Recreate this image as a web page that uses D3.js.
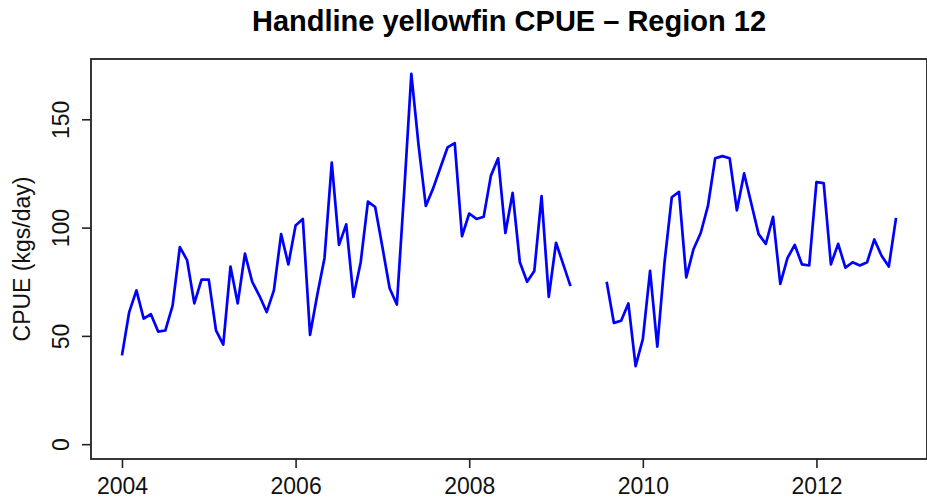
<!DOCTYPE html>
<html>
<head>
<meta charset="utf-8">
<script src="https://cdn.jsdelivr.net/npm/d3@7"></script>
<style>
    body { margin: 0; background: #fff; }
    svg { display: block; font-family: "Liberation Sans", Arial, sans-serif; }
</style>
</head>
<body>
<div id="chart"></div>
<script>
const years = [2004, 2005, 2006, 2007, 2008, 2009, 2010, 2011, 2012];

// monthly CPUE, Jan..Dec, null = no data
const cpue2004 = [41, 61, 71, 58, 60, 52, 52.5, 64, 91, 85, 65, 76];
const cpue2005 = [76, 52.5, 46, 82, 65, 88, 75, 68.5, 61, 71, 97, 83];
const cpue2006 = [101, 104, 50.5, 69, 86, 130, 92, 101.5, 68, 84, 112, 109.5];
const cpue2007 = [91, 72, 64.5, 116, 171, 138, 110, 118, 127.5, 137, 139, 96];
const cpue2008 = [106.5, 104, 105, 124, 132, 97.5, 116, 84, 75, 80, 114.5, 68];
const cpue2009 = [93, 83, 73, null, null, null, null, 75, 56, 57, 65, 36];
const cpue2010 = [48.5, 80, 45, 84, 114, 116.5, 77, 90, 97.5, 110, 132, 133];
const cpue2011 = [132, 108, 125, 111, 97, 92.5, 105, 74, 86, 92, 83, 82.5];
const cpue2012 = [121, 120.5, 83, 92.5, 81.5, 84, 82.5, 84, 94.5, 87, 82, 104.5];

const xTicks = [2004, 2006, 2008, 2010, 2012];
const yTicks = [0, 50, 100, 150];

const byYear = [cpue2004, cpue2005, cpue2006, cpue2007, cpue2008,
    cpue2009, cpue2010, cpue2011, cpue2012];

const data = [];
byYear.forEach((vals, i) => {
    vals.forEach((v, m) => {
        data.push({t: years[i] + m / 12, value: v});
    });
});

const width = 927;
const height = 501;
const plotLeft = 91, plotRight = 927, plotTop = 59, plotBottom = 459;

// R style 4% padding on both axes
const tMin = d3.min(data, d => d.t), tMax = d3.max(data, d => d.t);
const tPad = (tMax - tMin) * 0.04;
const vMax = d3.max(data, d => d.value);
const vPad = vMax * 0.04;

const x = d3.scaleLinear().domain([tMin - tPad, tMax + tPad]).range([plotLeft, plotRight]);
const y = d3.scaleLinear().domain([-vPad, vMax + vPad]).range([plotBottom, plotTop]);

const svg = d3.select('#chart')
    .append('svg')
    .attr('width', width)
    .attr('height', height);

svg.append('text')
    .attr('x', (plotLeft + plotRight) / 2)
    .attr('y', 31)
    .attr('text-anchor', 'middle')
    .style('font-size', '29px')
    .style('font-weight', 'bold')
    .text('Handline yellowfin CPUE \u2013 Region 12');

const xAxis = svg.append('g')
    .attr('transform', `translate(0,${plotBottom})`)
    .call(d3.axisBottom(x).tickValues(xTicks).tickFormat(d3.format('d')).tickSize(9).tickPadding(10));

const yAxis = svg.append('g')
    .attr('transform', `translate(${plotLeft},0)`)
    .call(d3.axisLeft(y).tickValues(yTicks).tickSize(9).tickPadding(6));

[xAxis, yAxis].forEach(g => {
    g.select('.domain').remove();
    g.selectAll('line').attr('stroke', '#222').attr('stroke-width', 1.6);
    g.selectAll('text').attr('fill', '#111').style('font-size', '23px');
});

// R draws y tick labels parallel to the axis
yAxis.selectAll('text')
    .attr('text-anchor', 'middle')
    .attr('x', -30)
    .attr('y', 0)
    .attr('dy', '0.35em')
    .attr('transform', 'rotate(-90, -30, 0)');

svg.append('text')
    .attr('transform', `translate(30,${(plotTop + plotBottom) / 2}) rotate(-90)`)
    .attr('text-anchor', 'middle')
    .style('font-size', '23px')
    .attr('fill', '#111')
    .text('CPUE (kgs/day)');

svg.append('path')
    .datum(data)
    .attr('fill', 'none')
    .attr('stroke', '#0000ff')
    .attr('stroke-width', 2.7)
    .attr('stroke-linejoin', 'round')
    .attr('d', d3.line()
        .defined(d => d.value !== null)
        .x(d => x(d.t))
        .y(d => y(d.value)));

svg.append('rect')
    .attr('x', plotLeft)
    .attr('y', plotTop)
    .attr('width', plotRight - plotLeft)
    .attr('height', plotBottom - plotTop)
    .attr('fill', 'none')
    .attr('stroke', '#222')
    .attr('stroke-width', 1.8);
</script>
</body>
</html>
